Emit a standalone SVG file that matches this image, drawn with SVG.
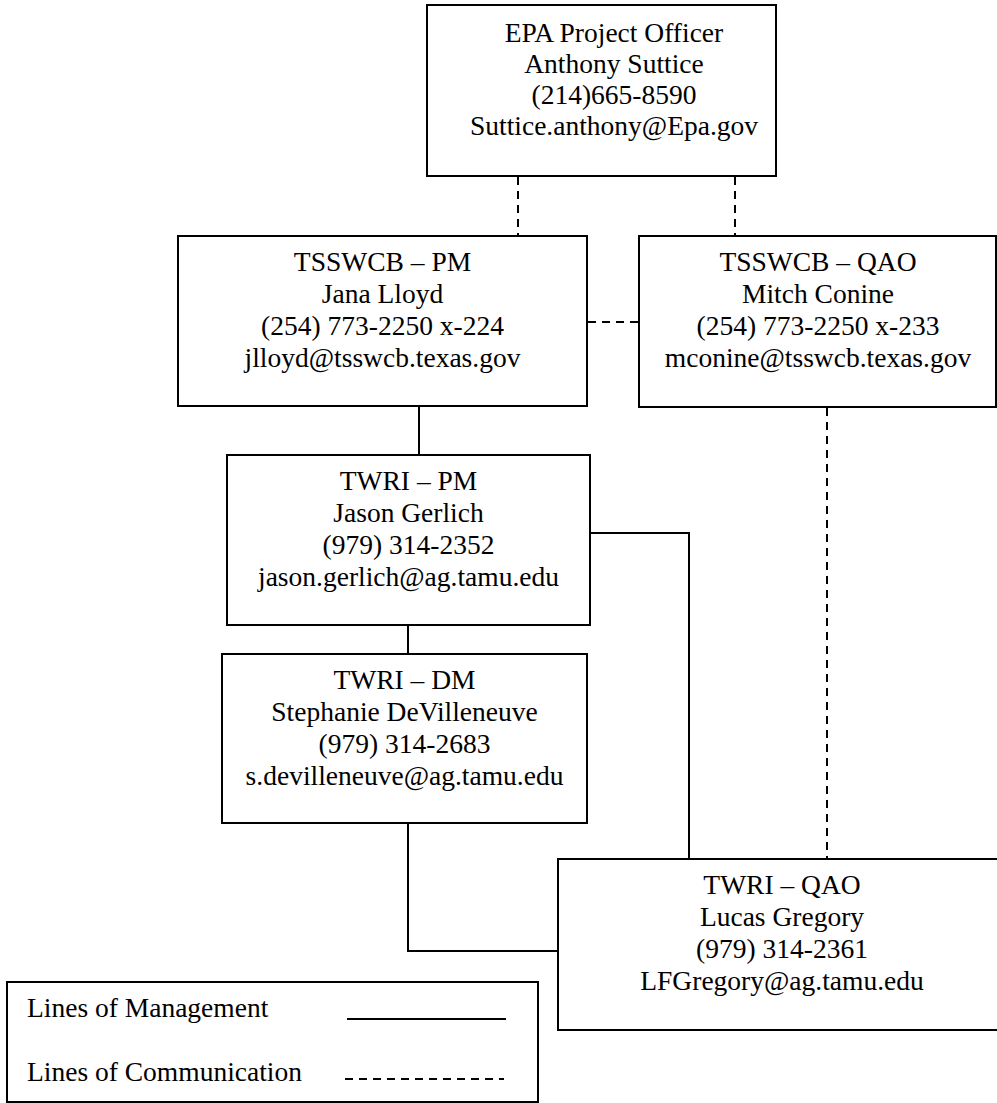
<svg xmlns="http://www.w3.org/2000/svg" width="997" height="1103" viewBox="0 0 997 1103">
<style>
.box{fill:#fff;stroke:#000;stroke-width:2}
.t{font-family:"Liberation Serif","Times New Roman",serif;font-size:27.5px;fill:#000;text-anchor:middle}
.lt{font-family:"Liberation Serif","Times New Roman",serif;font-size:27.5px;fill:#000}
.solid{fill:none;stroke:#000;stroke-width:2}
.dash{fill:none;stroke:#000;stroke-width:2;stroke-dasharray:8,6}
</style>
<rect width="997" height="1103" fill="#fff"/>
<g id="connectors">
<line class="dash" x1="518" y1="177" x2="518" y2="236"/>
<line class="dash" x1="735" y1="177" x2="735" y2="236"/>
<line class="dash" x1="588" y1="322" x2="639" y2="322"/>
<line class="solid" x1="419" y1="406" x2="419" y2="455"/>
<line class="solid" x1="408" y1="625" x2="408" y2="654"/>
<polyline class="solid" points="590,533 689,533 689,859"/>
<polyline class="solid" points="408,823 408,951 558,951"/>
<line class="dash" x1="827" y1="408" x2="827" y2="859"/>
</g>
<g id="epa">
<rect class="box" x="427" y="5" width="349" height="171"/>
<text class="t" x="614" y="42">EPA Project Officer</text>
<text class="t" x="614" y="73">Anthony Suttice</text>
<text class="t" x="614" y="104">(214)665-8590</text>
<text class="t" x="614" y="135">Suttice.anthony@Epa.gov</text>
</g>
<g id="tsswcb-pm">
<rect class="box" x="178" y="236" width="409" height="170"/>
<text class="t" x="382.5" y="271">TSSWCB – PM</text>
<text class="t" x="382.5" y="303">Jana Lloyd</text>
<text class="t" x="382.5" y="335">(254) 773-2250 x-224</text>
<text class="t" x="382.5" y="367">jlloyd@tsswcb.texas.gov</text>
</g>
<g id="tsswcb-qao">
<rect class="box" x="639" y="236" width="357" height="171"/>
<text class="t" x="818" y="271">TSSWCB – QAO</text>
<text class="t" x="818" y="303">Mitch Conine</text>
<text class="t" x="818" y="335">(254) 773-2250 x-233</text>
<text class="t" x="818" y="367">mconine@tsswcb.texas.gov</text>
</g>
<g id="twri-pm">
<rect class="box" x="227" y="455" width="363" height="170"/>
<text class="t" x="408.5" y="490">TWRI – PM</text>
<text class="t" x="408.5" y="522">Jason Gerlich</text>
<text class="t" x="408.5" y="554">(979) 314-2352</text>
<text class="t" x="408.5" y="586">jason.gerlich@ag.tamu.edu</text>
</g>
<g id="twri-dm">
<rect class="box" x="222" y="654" width="365" height="169"/>
<text class="t" x="404.5" y="689">TWRI – DM</text>
<text class="t" x="404.5" y="721">Stephanie DeVilleneuve</text>
<text class="t" x="404.5" y="753">(979) 314-2683</text>
<text class="t" x="404.5" y="785">s.devilleneuve@ag.tamu.edu</text>
</g>
<g id="twri-qao">
<rect class="box" x="558" y="859" width="448" height="171"/>
<text class="t" x="782" y="894">TWRI – QAO</text>
<text class="t" x="782" y="926">Lucas Gregory</text>
<text class="t" x="782" y="958">(979) 314-2361</text>
<text class="t" x="782" y="990">LFGregory@ag.tamu.edu</text>
</g>
<g id="legend">
<rect class="box" x="7" y="982" width="531" height="120"/>
<text class="lt" x="27" y="1017">Lines of Management</text>
<line class="solid" x1="347" y1="1019" x2="506" y2="1019"/>
<text class="lt" x="27" y="1081">Lines of Communication</text>
<line class="dash" x1="345" y1="1079" x2="504" y2="1079"/>
</g>
</svg>
